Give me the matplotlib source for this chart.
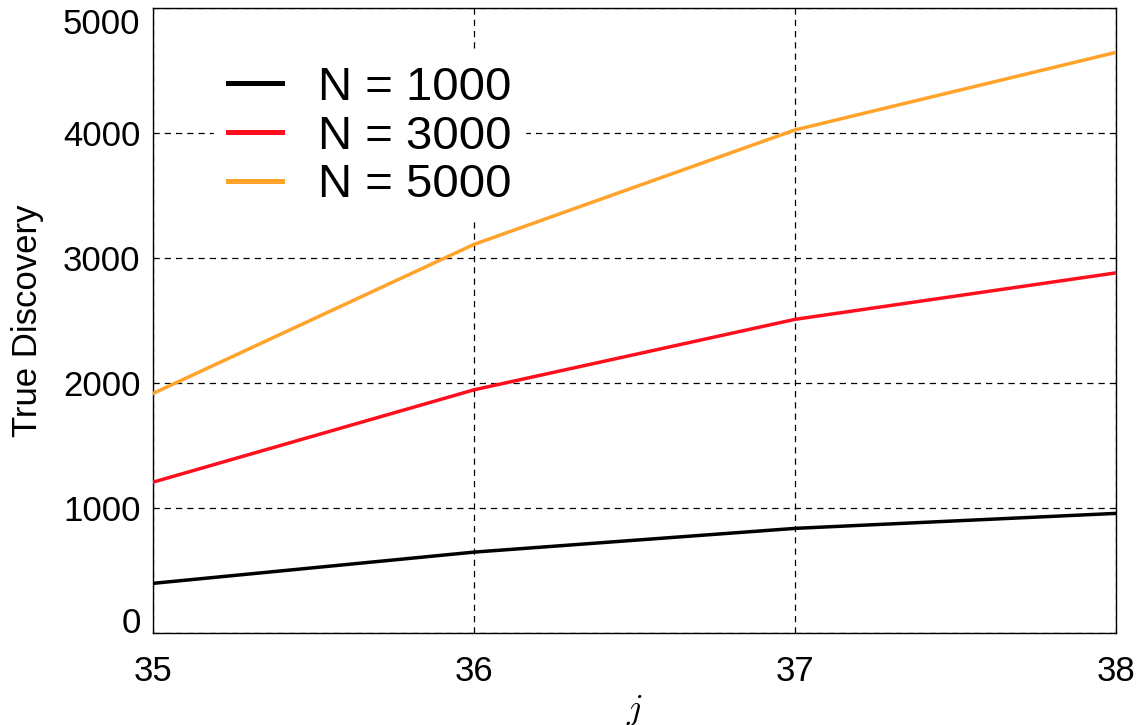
import matplotlib
matplotlib.use("Agg")
import matplotlib.pyplot as plt

# values
j_vals = [35, 36, 37, 38]
n1000 = [395, 645, 835, 955]
n3000 = [1205, 1944, 2508, 2880]
n5000 = [1915, 3108, 4024, 4645]
labels = ["N = 1000", "N = 3000", "N = 5000"]
yticks = [0, 1000, 2000, 3000, 4000, 5000]

BLACK = "#000000"; RED = "#FF0F1E"; ORANGE = "#FFA32A"

plt.rcParams.update({
    "font.family": ["Liberation Sans", "DejaVu Sans"],
    "mathtext.fontset": "cm",
})

fig = plt.figure(figsize=(11.43, 7.25), dpi=100)
ax = fig.add_axes([0.1339, 0.1273, 0.8425, 0.8617])

for ys, c, lab in zip([n1000, n3000, n5000], [BLACK, RED, ORANGE], labels):
    ax.plot(j_vals, ys, color=c, lw=2.5, label=lab, zorder=3)

ax.set_xlim(35, 38)
ax.set_ylim(0, 5000)
ax.set_xticks(j_vals)
ax.set_yticks(yticks)
ax.tick_params(axis="both", length=0, labelsize=25)
ax.tick_params(axis="x", pad=16)
ax.tick_params(axis="y", pad=9)
tl = ax.get_yticklabels()
tl[0].set_va("baseline")
tl[-1].set_va("top")

ax.grid(True, color="black", lw=0.9, ls=(0, (5, 4)), zorder=1)
for sp in ax.spines.values():
    sp.set_color("black")
    sp.set_linewidth(1.0)

ax.set_ylabel("True Discovery", fontsize=25, labelpad=14)
ax.set_xlabel("$j$", fontsize=26, labelpad=4)

leg = ax.legend(loc="upper left", bbox_to_anchor=(0.063, 0.93), borderaxespad=0,
                fontsize=34, frameon=True, fancybox=False, framealpha=1,
                edgecolor="white", handlelength=1.15, handletextpad=0.75,
                labelspacing=0.1, borderpad=0.3)
for h in leg.get_lines():
    h.set_linewidth(3.6)
leg.set_zorder(5)

fig.savefig("out.png", dpi=100)
